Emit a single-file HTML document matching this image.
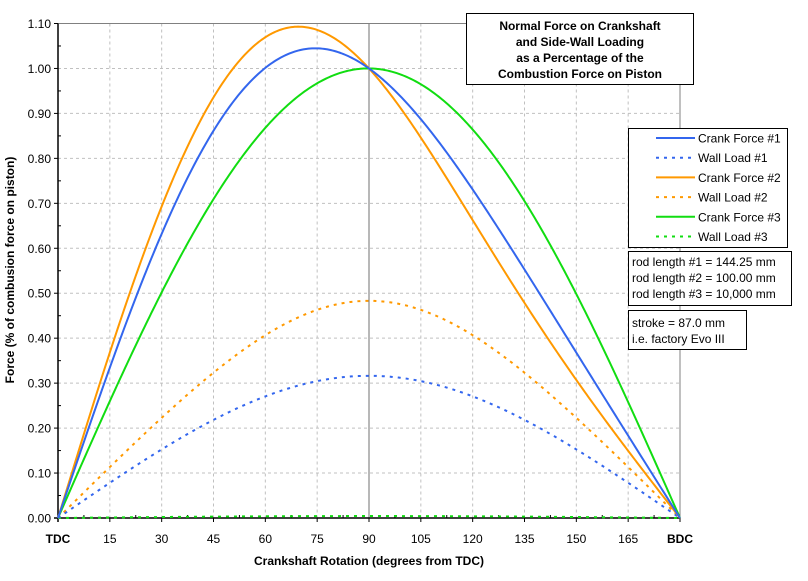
<!DOCTYPE html>
<html><head><meta charset="utf-8"><style>
body{margin:0;background:#fff;}
svg{display:block;font-family:"Liberation Sans",Arial,sans-serif;}
</style></head><body>
<svg id="s" width="808" height="581" xmlns="http://www.w3.org/2000/svg"></svg>
<script>
const s=document.getElementById('s');
const X0=58,X1=680,Y0=518,YT=23.5;
const px=d=>X0+(X1-X0)*d/180, py=v=>Y0-(Y0-YT)*v/1.1;
let h='';
for(let i=1;i<=10;i++){h+=`<line x1="${X0}" x2="${X1}" y1="${py(i/10)}" y2="${py(i/10)}" stroke="#c0c0c0" stroke-dasharray="3,3"/>`;}
for(let d=15;d<180;d+=15){if(d!=90)h+=`<line x1="${px(d)}" x2="${px(d)}" y1="${YT}" y2="${Y0}" stroke="#c0c0c0" stroke-dasharray="3,3"/>`;}
h+=`<line x1="${px(90)}" x2="${px(90)}" y1="${YT}" y2="${Y0}" stroke="#707070"/>`;
h+=`<line x1="${X0}" x2="${X1}" y1="${YT}" y2="${YT}" stroke="#808080"/>`;
h+=`<line x1="${X1}" x2="${X1}" y1="${YT}" y2="${Y0}" stroke="#808080"/>`;
h+=`<line x1="${X0}" x2="${X0}" y1="${YT}" y2="${Y0+4}" stroke="#000" stroke-width="1.5"/>`;
h+=`<line x1="${X0-4}" x2="${X1}" y1="${Y0}" y2="${Y0}" stroke="#000" stroke-width="1.5"/>`;
for(let i=0;i<=22;i++){const y=py(i*0.05);h+=`<line x1="${X0-(i%2?0:4)}" x2="${X0+(i%2?3:0)}" y1="${y}" y2="${y}" stroke="#000"/>`;
 if(i%2==0)h+=`<text x="${X0-7}" y="${y+4.5}" font-size="12" text-anchor="end">${(i*0.05).toFixed(2)}</text>`;}
for(let d=0;d<=180;d+=7.5){const x=px(d);h+=`<line x1="${x}" x2="${x}" y1="${Y0-(d%15?3:0)}" y2="${Y0+(d%15?0:4)}" stroke="#000"/>`;}
for(let d=15;d<180;d+=15)h+=`<text x="${px(d)}" y="543" font-size="12" text-anchor="middle">${d}</text>`;
h+=`<text x="${px(0)}" y="543" font-size="12" font-weight="bold" text-anchor="middle">TDC</text>`;
h+=`<text x="${px(180)}" y="543" font-size="12" font-weight="bold" text-anchor="middle">BDC</text>`;
h+=`<text x="369" y="565" font-size="12" font-weight="bold" text-anchor="middle">Crankshaft Rotation (degrees from TDC)</text>`;
h+=`<text transform="translate(14,270) rotate(-90)" font-size="12" font-weight="bold" text-anchor="middle">Force (%  of combusion force on piston)</text>`;
const r=43.5,cols=['#3366ee','#ff9900','#11dd11'],Ls=[144.25,100,10000];
const crank=[],wall=[];
Ls.forEach((L,k)=>{let a='',b='';for(let d=0;d<=180;d+=0.5){const t=d*Math.PI/180,sp=r/L*Math.sin(t),p=Math.asin(sp);
 const c=Math.sin(t+p)/Math.cos(p),w=Math.tan(p);a+=(d?'L':'M')+px(d).toFixed(2)+','+py(c).toFixed(2);b+=(d?'L':'M')+px(d).toFixed(2)+','+py(w).toFixed(2);}
 crank.push(`<path d="${a}" fill="none" stroke="${cols[k]}" stroke-width="2"/>`);wall.push(`<path d="${b}" fill="none" stroke="${cols[k]}" stroke-width="2" stroke-dasharray="3,5"/>`);});
h+=wall[2]+wall[1]+wall[0]+crank[2]+crank[1]+crank[0];
h+=`<rect x="466.5" y="13.5" width="227" height="71" fill="#fff" stroke="#000"/>`;
['Normal Force on Crankshaft','and Side-Wall Loading','as a Percentage of the','Combustion Force on Piston'].forEach((t,i)=>h+=`<text x="580" y="${30+i*16}" font-size="12" font-weight="bold" text-anchor="middle">${t}</text>`);
h+=`<rect x="628.5" y="128.5" width="159" height="119" fill="#fff" stroke="#000"/>`;
const names=['Crank Force #1','Wall Load #1','Crank Force #2','Wall Load #2','Crank Force #3','Wall Load #3'];
names.forEach((n,i)=>{const y=138+i*19.7,c=cols[Math.floor(i/2)];
 h+=`<line x1="656" x2="695" y1="${y}" y2="${y}" stroke="${c}" stroke-width="2" ${i%2?'stroke-dasharray="3,5"':''}/>`;
 h+=`<text x="698" y="${y+4.5}" font-size="12">${n}</text>`;});
h+=`<rect x="628.5" y="251.5" width="163" height="54" fill="#fff" stroke="#000"/>`;
['rod length #1 = 144.25 mm','rod length #2 = 100.00 mm','rod length #3 = 10,000 mm'].forEach((t,i)=>h+=`<text x="632" y="${266+i*16}" font-size="12">${t}</text>`);
h+=`<rect x="628.5" y="310.5" width="118" height="39" fill="#fff" stroke="#000"/>`;
h+=`<text x="632" y="327" font-size="12">stroke = 87.0 mm</text><text x="632" y="343" font-size="12">i.e. factory Evo III</text>`;
s.innerHTML=h;
</script>
</body></html>
